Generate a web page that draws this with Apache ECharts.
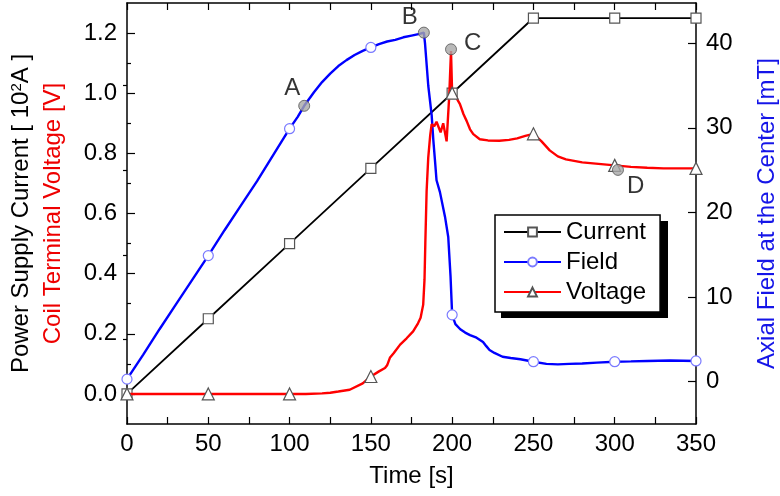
<!DOCTYPE html>
<html><head><meta charset="utf-8">
<script src="https://cdn.jsdelivr.net/npm/echarts@6/dist/echarts.min.js"></script>
<style>html,body{margin:0;padding:0;background:#fff}#c{width:780px;height:496px}</style>
</head><body><div id="c"></div>
<script>
// ---- data ----
const currentT = [0, 50, 100, 150, 200, 250, 300, 350];
const currentV = [0, 0.25, 0.5, 0.75, 1.0, 1.25, 1.25, 1.25];

const fieldT = [0,10,20,30,40,50,60,70,80,90,100,105,109,115,120,125,130,135,140,145,150,155,160,165,170,175,180,182.6,183.3,185.3,187.4,188.4,189.5,190.4,192.5,195.6,197.6,199,200,202,205,208,211,215,219,221,223,226,231,236,242,250,258,265,272,280,289,300,310,320,334,350];
const fieldV = [0.3,3.2,6.2,9.1,12.0,14.9,17.9,20.8,23.7,26.8,29.9,31.3,32.6,34.2,35.4,36.4,37.3,38.0,38.6,39.1,39.5,39.9,40.2,40.4,40.7,40.9,41.1,41.25,40.0,35.0,31.5,28.6,26.0,23.8,22.4,19.5,17.1,12.5,7.9,6.8,6.2,5.8,5.5,5.2,4.7,4.2,3.75,3.4,2.95,2.8,2.65,2.36,2.1,2.05,2.1,2.15,2.25,2.36,2.4,2.45,2.5,2.45];

const voltT = [0,50,100,110,120,125,130,137,145,150,155,158.7,160,161.7,164,168,172,176,179,180.6,182.2,183,183.5,184.3,185.3,186.5,187.4,189,190.4,192.9,194.5,196.6,198.2,199.3,200,202,204.8,207,208.9,211,213,217,222,229,235,240,245,250,255,260,265,270,280,290,300,310,320,330,340,350];
const voltV = [0,0,0,0,0.002,0.004,0.008,0.014,0.035,0.058,0.075,0.086,0.095,0.12,0.135,0.164,0.185,0.208,0.235,0.253,0.297,0.38,0.5,0.675,0.786,0.86,0.897,0.89,0.905,0.87,0.9,0.84,0.99,1.14,1.0,0.99,0.964,0.93,0.908,0.88,0.864,0.847,0.843,0.842,0.845,0.85,0.858,0.865,0.84,0.81,0.79,0.78,0.77,0.765,0.76,0.755,0.752,0.75,0.75,0.75];

const markerT = [0, 50, 100, 150, 200, 250, 300, 350];

const fieldAnnotNames = ['A', 'B'];
const fieldAnnotT = [109, 182.6];
const fieldAnnotV = [32.6, 41.25];
const voltAnnotNames = ['C', 'D'];
const voltAnnotT = [199.3, 302];
const voltAnnotV = [1.146, 0.745];

const leftLabels = [0, 0.2, 0.4, 0.6, 0.8, 1.0, 1.2];
const leftMinor = [0.1, 0.3, 0.5, 0.7, 0.9, 1.1];
const rightLabels = [0, 10, 20, 30, 40];
const rightMinor = [5, 15, 25, 35];

// ---- build ----
const FONT = 'Liberation Sans, Arial, sans-serif';
const FS = 24;
function withMarkers(ts, vs) {
  return ts.map((t, i) => markerT.indexOf(t) >= 0 ? {value: [t, vs[i]]} : {value: [t, vs[i]], symbol: 'none'});
}
const currentData = currentT.map((t, i) => [t, currentV[i]]);
const fieldData = withMarkers(fieldT, fieldV);
const voltData = withMarkers(voltT, voltV);

const chart = echarts.init(document.getElementById('c'), null, {renderer: 'canvas'});
const axisLine = {show: true, onZero: false, lineStyle: {color: '#000', width: 1.5}};
const lbl = {color: '#000', fontSize: FS, fontFamily: FONT};

chart.setOption({
  animation: false,
  backgroundColor: '#fff',
  grid: {left: 127, right: 84, top: 3, bottom: 72, containLabel: false, outerBoundsMode: 'none'},
  graphic: [
    {type: 'rect', z: 1, shape: {x: 501, y: 221, width: 167, height: 97}, style: {fill: '#000'}}
  ],
  xAxis: [
    {type: 'value', position: 'bottom', min: 0, max: 350, interval: 25,
     axisLine: axisLine, splitLine: {show: false},
     axisTick: {inside: true, length: 7, lineStyle: {color: '#000', width: 1.2}},
     axisLabel: Object.assign({margin: 8, formatter: v => (v % 50 === 0 ? String(v) : '')}, lbl),
     name: 'Time [s]', nameLocation: 'middle', nameGap: 40,
     nameTextStyle: {color: '#000', fontSize: FS, fontFamily: FONT}},
    {type: 'value', position: 'top', min: 0, max: 350, interval: 25,
     axisLine: axisLine, splitLine: {show: false},
     axisTick: {inside: true, length: 7, lineStyle: {color: '#000', width: 1.2}},
     axisLabel: {show: false}}
  ],
  yAxis: [
    {type: 'value', position: 'left', min: -0.1, max: 1.3,
     axisLine: axisLine, splitLine: {show: false},
     axisTick: {inside: true, length: 8, customValues: leftLabels, lineStyle: {color: '#000', width: 1.2}},
     axisLabel: Object.assign({margin: 10, customValues: leftLabels, formatter: v => v.toFixed(1)}, lbl),
     name: 'Power Supply Current [ 10{sup|2}A ]', nameLocation: 'middle', nameGap: 93,
     nameTextStyle: {color: '#000', fontSize: FS, fontFamily: FONT,
       rich: {sup: {fontSize: 15, fontFamily: FONT, color: '#000', verticalAlign: 'bottom', padding: [0, 0, 10, 0]}}}},
    {type: 'value', position: 'right', min: -5, max: 44.75,
     axisLine: axisLine, splitLine: {show: false},
     axisTick: {inside: true, length: 8, customValues: rightLabels, lineStyle: {color: '#000', width: 1.2}},
     axisLabel: Object.assign({margin: 10, customValues: rightLabels}, lbl),
     name: 'Axial Field at the Center [mT]', nameLocation: 'middle', nameGap: 59,
     nameTextStyle: {color: '#1515e8', fontSize: FS, fontFamily: FONT}},
    {type: 'value', position: 'left', min: -0.1, max: 1.3,
     axisLine: {show: false}, splitLine: {show: false},
     axisTick: {show: true, inside: true, length: 4, customValues: leftMinor, lineStyle: {color: '#000', width: 1.2}},
     axisLabel: {show: false},
     name: 'Coil Terminal Voltage [V]', nameLocation: 'middle', nameGap: 62,
     nameTextStyle: {color: '#ee0000', fontSize: FS, fontFamily: FONT}},
    {type: 'value', position: 'right', min: -5, max: 44.75,
     axisLine: {show: false}, splitLine: {show: false},
     axisTick: {show: true, inside: true, length: 4, customValues: rightMinor, lineStyle: {color: '#000', width: 1.2}},
     axisLabel: {show: false}}
  ],
  legend: {
    orient: 'vertical', left: 495, top: 215, z: 5,
    data: ['Current', 'Field', 'Voltage'],
    itemWidth: 57, itemHeight: 11, itemGap: 6,
    textStyle: {color: '#000', fontSize: FS, fontFamily: FONT},
    backgroundColor: '#fff', borderColor: '#000', borderWidth: 1.5, borderRadius: 0,
    padding: [5, 14, 8, 8],
    selectedMode: false
  },
  series: [
    {name: 'Current', type: 'line', xAxisIndex: 0, yAxisIndex: 0, data: currentData,
     symbol: 'rect', symbolSize: 10, showAllSymbol: true,
     lineStyle: {color: '#000', width: 1.8},
     itemStyle: {color: '#fff', borderColor: '#555', borderWidth: 1.2}, z: 3},
    {name: 'Field', type: 'line', xAxisIndex: 0, yAxisIndex: 1, data: fieldData,
     symbol: 'circle', symbolSize: 10, showAllSymbol: true,
     lineStyle: {color: '#0000ff', width: 2.4},
     itemStyle: {color: '#fff', borderColor: '#7a7aff', borderWidth: 1.2}, z: 4},
    {name: 'Voltage', type: 'line', xAxisIndex: 0, yAxisIndex: 0, data: voltData,
     symbol: 'triangle', symbolSize: 12, showAllSymbol: true,
     lineStyle: {color: '#ff0000', width: 2.4},
     itemStyle: {color: '#fff', borderColor: '#555', borderWidth: 1.2}, z: 5},
    {name: 'annotField', type: 'scatter', xAxisIndex: 0, yAxisIndex: 1,
     data: fieldAnnotT.map((t, i) => ({name: fieldAnnotNames[i], value: [t, fieldAnnotV[i]],
       label: {offset: i === 0 ? [-12, 6] : [-14, 8]}})),
     symbol: 'circle', symbolSize: 11,
     itemStyle: {color: '#a8a8a8', borderColor: '#555', borderWidth: 1},
     label: {show: true, position: 'top', formatter: '{b}', color: '#000', fontSize: FS, fontFamily: FONT},
     z: 6},
    {name: 'annotVolt', type: 'scatter', xAxisIndex: 0, yAxisIndex: 0,
     data: voltAnnotT.map((t, i) => ({name: voltAnnotNames[i], value: [t, voltAnnotV[i]],
       label: i === 0 ? {position: 'right', offset: [2, -6]} : {position: 'right', offset: [-2, 16]}})),
     symbol: 'circle', symbolSize: 11,
     itemStyle: {color: '#a8a8a8', borderColor: '#555', borderWidth: 1},
     label: {show: true, formatter: '{b}', color: '#000', fontSize: FS, fontFamily: FONT},
     z: 6}
  ]
});
</script>
</body></html>
